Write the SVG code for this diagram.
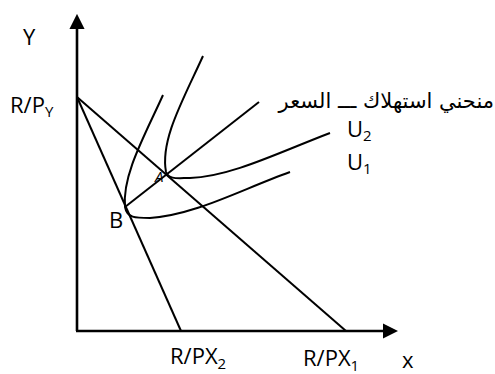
<svg xmlns="http://www.w3.org/2000/svg" width="495" height="374" viewBox="0 0 495 374">
<style>
.ax{stroke:#000;stroke-width:2.6;fill:none}
.ln{stroke:#000;stroke-width:2;fill:none}
.t{font-family:"Open Sans","Liberation Sans",sans-serif;font-size:22px;fill:#000}
.s{font-size:15px}
.ar{font-family:"DejaVu Sans","Noto Sans",sans-serif;font-size:21px;fill:#000}
</style>
<defs>
<marker id="ah" viewBox="0 0 10 10" refX="0" refY="5" markerWidth="5.8" markerHeight="5.8" orient="auto" markerUnits="strokeWidth">
<path d="M0,0 L10,5 L0,10 z" fill="#000"/>
</marker>
</defs>
<g id="axes">
<path class="ax" d="M77,331 L77,29" marker-end="url(#ah)"/>
<path class="ax" d="M76,331 L383,331" marker-end="url(#ah)"/>
</g>
<g id="connectors">
<path class="ln" d="M77,97 L346,331"/>
<path class="ln" d="M77,97 L181,331"/>
<path class="ln" d="M125,207 L259,102"/>
</g>
<g id="U2">
<path class="ln" d="M203,56 C183,100 160,140 166,172 C169,180 178,178 190,178 C230,177 280,152 330,133"/>
</g>
<g id="U1">
<path class="ln" d="M163,95 C145,135 122,175 125,207 C127,218 135,218 150,218 C195,215 240,190 290,172"/>
</g>
<g id="labels">
<text class="t" x="23" y="45">Y</text>
<text class="t" x="10" y="113">R/P<tspan class="s" dy="4">Y</tspan></text>
<text class="t" x="109" y="228">B</text>
<text class="t" x="155" y="182" style="font-size:15px;font-style:italic">A</text>
<text class="t" x="170" y="364">R/PX<tspan class="s" dy="5">2</tspan></text>
<text class="t" x="303" y="366">R/PX<tspan class="s" dy="5">1</tspan></text>
<text class="t" x="402" y="368">x</text>
<text class="t" x="347" y="137">U<tspan class="s" dy="4">2</tspan></text>
<text class="t" x="347" y="170">U<tspan class="s" dy="4">1</tspan></text>
<text class="ar" x="494" y="108" text-anchor="end">منحني استهلاك ـــ السعر</text>
</g>
</svg>
